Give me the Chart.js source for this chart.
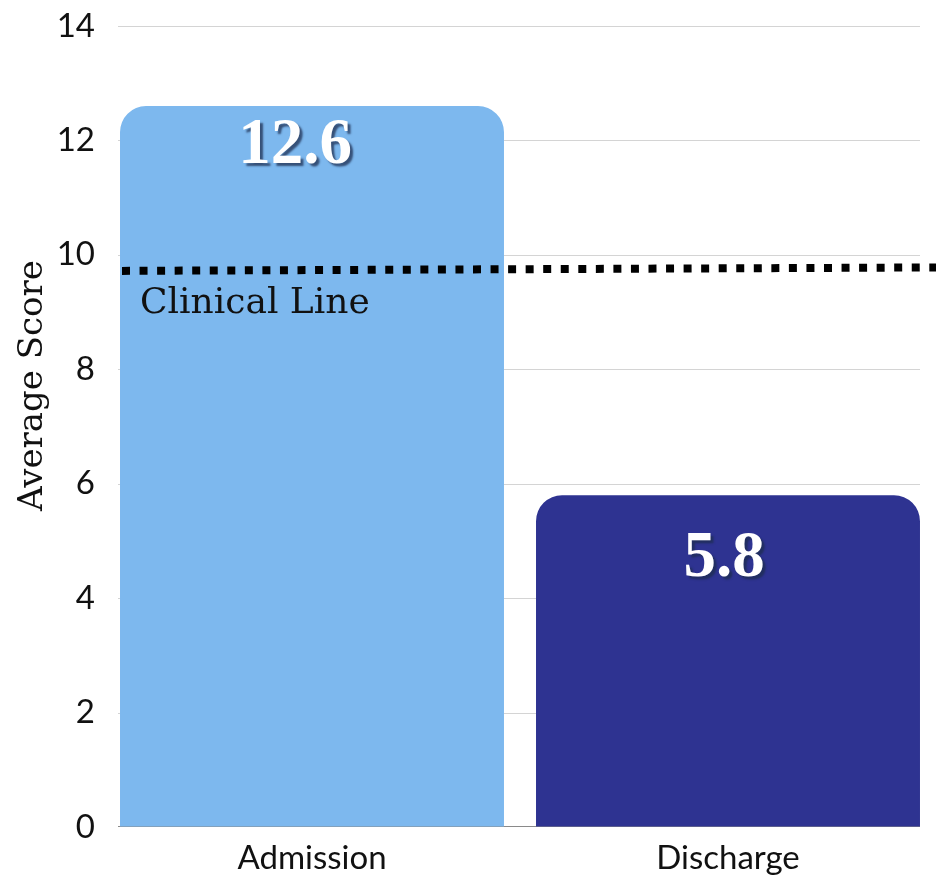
<!DOCTYPE html>
<html>
<head>
<meta charset="utf-8">
<script src="https://cdn.jsdelivr.net/npm/chart.js@4.4.1/dist/chart.umd.min.js"></script>
<style>
  html, body { margin: 0; padding: 0; background: #ffffff; }
  #wrap { width: 936px; height: 880px; }
</style>
</head>
<body>
<div id="wrap"><canvas id="chart" width="936" height="880"></canvas></div>
<script>
// Average score at admission and at discharge, with the clinical cut-off line
const categories = ['Admission', 'Discharge'];
const averageScores = [12.6, 5.8];
const barColors = ['#7DB8EE', '#2E3391'];
const clinicalLine = [9.72, 9.78];   // cut-off value at the left and right ends of the line
const clinicalLabel = 'Clinical Line';
const axisTitle = 'Average Score';
const yMin = 0, yMax = 14, yStep = 2;

// Horizontal guide lines at each y tick, inset a little from the plot edges
const guideLinesPlugin = {
  id: 'guideLines',
  beforeDatasetsDraw(chart, args, opts) {
    const { ctx, chartArea, scales } = chart;
    const x0 = chartArea.left + opts.insetLeft;
    const x1 = chartArea.right - opts.insetRight;
    ctx.save();
    ctx.lineWidth = 1;
    scales.y.ticks.forEach(t => {
      const base = t.value === yMin;
      const py = Math.round(scales.y.getPixelForValue(t.value)) + (base ? -0.5 : 0.5);
      ctx.strokeStyle = base ? '#8a8a8a' : '#d4d4d4';
      ctx.beginPath();
      ctx.moveTo(x0, py);
      ctx.lineTo(x1, py);
      ctx.stroke();
    });
    ctx.restore();
  }
};

// Rotated y-axis title, set a little above the middle of the plot
const axisTitlePlugin = {
  id: 'axisTitle',
  afterDraw(chart, args, opts) {
    const { ctx, chartArea } = chart;
    ctx.save();
    ctx.translate(opts.x, (chartArea.top + chartArea.bottom) / 2 + opts.dy);
    ctx.rotate(-Math.PI / 2);
    ctx.fillStyle = '#111111';
    ctx.font = '34px "DejaVu Serif"';
    ctx.textAlign = 'center';
    ctx.textBaseline = 'middle';
    ctx.fillText(axisTitle, 0, 0);
    ctx.restore();
  }
};

// Dotted cut-off line with its caption, drawn to the right edge of the plot
const clinicalLinePlugin = {
  id: 'clinicalLine',
  afterDatasetsDraw(chart, args, opts) {
    const { ctx, chartArea, scales } = chart;
    const y = scales.y;
    const x0 = chartArea.left + opts.inset, x1 = chartArea.right;
    const y0 = y.getPixelForValue(clinicalLine[0]);
    const y1 = y.getPixelForValue(clinicalLine[1]);
    ctx.save();
    ctx.strokeStyle = '#000000';
    ctx.lineWidth = 8;
    ctx.setLineDash([8, 9.55]);
    ctx.lineCap = 'butt';
    ctx.beginPath();
    ctx.moveTo(x0, y0);
    ctx.lineTo(x1, y1);
    ctx.stroke();
    ctx.setLineDash([]);
    ctx.fillStyle = '#111111';
    ctx.font = '36px "DejaVu Serif"';
    ctx.textAlign = 'left';
    ctx.textBaseline = 'alphabetic';
    ctx.fillText(clinicalLabel, chartArea.left + 36, y0 + 42);
    ctx.restore();
  }
};

// White value labels with a soft drop shadow, placed inside each bar
const valueLabelPlugin = {
  id: 'valueLabels',
  afterDatasetsDraw(chart, args, opts) {
    const { ctx } = chart;
    const meta = chart.getDatasetMeta(0);
    ctx.save();
    ctx.font = 'bold 65px "Liberation Serif"';
    ctx.textAlign = 'center';
    ctx.textBaseline = 'alphabetic';
    meta.data.forEach((bar, i) => {
      const text = averageScores[i].toFixed(1);
      ctx.shadowColor = 'rgba(30, 45, 80, 0.75)';
      ctx.shadowOffsetX = 3;
      ctx.shadowOffsetY = 3;
      ctx.shadowBlur = 2;
      ctx.fillStyle = '#ffffff';
      ctx.fillText(text, bar.x + opts.dx[i], bar.y + opts.dy[i]);
    });
    ctx.restore();
  }
};

new Chart(document.getElementById('chart'), {
  type: 'bar',
  data: {
    labels: categories,
    datasets: [{
      data: averageScores,
      backgroundColor: barColors,
      borderWidth: 0,
      borderSkipped: 'bottom',
      borderRadius: { topLeft: 26, topRight: 26, bottomLeft: 0, bottomRight: 0 },
      barPercentage: 0.923,
      categoryPercentage: 1.0
    }]
  },
  options: {
    responsive: false,
    animation: false,
    devicePixelRatio: 1,
    layout: { padding: { top: 26, right: 0, bottom: 0, left: 12 } },
    plugins: {
      legend: { display: false },
      tooltip: { enabled: false },
      guideLines: { insetLeft: 14, insetRight: 16 },
      axisTitle: { x: 33, dy: -41 },
      clinicalLine: { inset: 18 },
      valueLabels: { dx: [-17, -4], dy: [57, 81] }
    },
    scales: {
      x: {
        grid: { display: false, drawTicks: false },
        border: { display: false },
        afterFit(scale) { scale.height = 53; },
        ticks: {
          color: '#111111',
          padding: 12,
          font: { family: 'Lato', size: 33 }
        }
      },
      y: {
        min: yMin,
        max: yMax,
        grid: { display: true, drawOnChartArea: false, drawTicks: true, tickLength: 9, tickColor: 'rgba(0,0,0,0)' },
        border: { display: false },
        afterFit(scale) { scale.width = 92; },
        ticks: {
          stepSize: yStep,
          color: '#111111',
          padding: 0,
          font: { family: 'Lato', size: 33 }
        },
        title: { display: false }
      }
    }
  },
  plugins: [guideLinesPlugin, clinicalLinePlugin, valueLabelPlugin, axisTitlePlugin]
});
</script>
</body>
</html>
